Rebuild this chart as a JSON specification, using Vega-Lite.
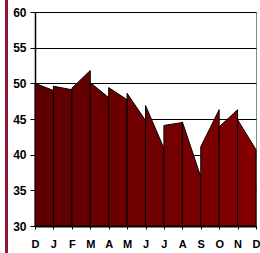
{
  "$schema": "https://vega.github.io/schema/vega-lite/v6.json",
  "autosize": "none",
  "padding": {"left": 35, "top": 12, "right": 4, "bottom": 27},
  "width": 221,
  "height": 214,
  "config": {
    "view": {"stroke": "#888888", "strokeWidth": 1},
    "axis": {"labelFont": "Liberation Sans", "labelFontWeight": "bold", "labelColor": "#000000", "domainColor": "#000000", "tickColor": "#000000", "labelOverlap": false, "labelFlush": false}
  },
  "data": {"values": [
    {"seg": 0, "x": 0, "v": 50.0}, {"seg": 0, "x": 1, "v": 49.0},
    {"seg": 1, "x": 1, "v": 49.6}, {"seg": 1, "x": 2, "v": 49.1},
    {"seg": 2, "x": 2, "v": 49.3}, {"seg": 2, "x": 3, "v": 51.8},
    {"seg": 3, "x": 3, "v": 50.1}, {"seg": 3, "x": 4, "v": 48.0},
    {"seg": 4, "x": 4, "v": 49.4}, {"seg": 4, "x": 5, "v": 47.7},
    {"seg": 5, "x": 5, "v": 48.6}, {"seg": 5, "x": 6, "v": 44.8},
    {"seg": 6, "x": 6, "v": 46.9}, {"seg": 6, "x": 7, "v": 40.9},
    {"seg": 7, "x": 7, "v": 44.1}, {"seg": 7, "x": 8, "v": 44.5},
    {"seg": 8, "x": 8, "v": 44.6}, {"seg": 8, "x": 9, "v": 36.9},
    {"seg": 9, "x": 9, "v": 41.1}, {"seg": 9, "x": 10, "v": 46.3},
    {"seg": 10, "x": 10, "v": 43.9}, {"seg": 10, "x": 11, "v": 46.3},
    {"seg": 11, "x": 11, "v": 44.9}, {"seg": 11, "x": 12, "v": 40.7}
  ]},
  "layer": [
    {
      "mark": {"type": "area", "stroke": "#000000", "strokeWidth": 1, "strokeJoin": "miter"},
      "encoding": {
        "x": {"field": "x", "type": "quantitative", "scale": {"domain": [0, 12], "nice": false},
          "axis": {"values": [0,1,2,3,4,5,6,7,8,9,10,11,12], "title": null, "grid": false, "domainWidth": 2, "tickSize": 3, "labelFontSize": 11, "labelPadding": 9,
            "labelExpr": "['D','J','F','M','A','M','J','J','A','S','O','N','D'][datum.value]"}},
        "y": {"field": "v", "type": "quantitative", "scale": {"domain": [30, 60], "nice": false, "zero": false},
          "axis": {"values": [30,35,40,45,50,55,60], "title": null, "grid": true, "gridColor": "#000000", "gridOpacity": 1, "gridWidth": 1, "domainWidth": 1.5, "tickSize": 5, "labelFontSize": 12, "labelPadding": 4}},
        "y2": {"datum": 30},
        "detail": {"field": "seg"},
        "fill": {"field": "seg", "type": "quantitative", "scale": {"range": ["#5e0000", "#820000"]}, "legend": null}
      }
    },
    {
      "mark": {"type": "rule", "color": "#8c1a3a", "strokeWidth": 2, "clip": false},
      "encoding": {
        "x": {"datum": -1.55, "type": "quantitative",
          "axis": {"values": [0,1,2,3,4,5,6,7,8,9,10,11,12], "title": null, "grid": false, "domainWidth": 2, "tickSize": 3, "labelFontSize": 11, "labelPadding": 9,
            "labelExpr": "['D','J','F','M','A','M','J','J','A','S','O','N','D'][datum.value]"}},
        "y": {"datum": 61.7, "type": "quantitative",
          "axis": {"values": [30,35,40,45,50,55,60], "title": null, "grid": true, "gridColor": "#000000", "gridOpacity": 1, "gridWidth": 1, "domainWidth": 1.5, "tickSize": 5, "labelFontSize": 12, "labelPadding": 4}},
        "y2": {"datum": 26.2}
      }
    }
  ]
}
